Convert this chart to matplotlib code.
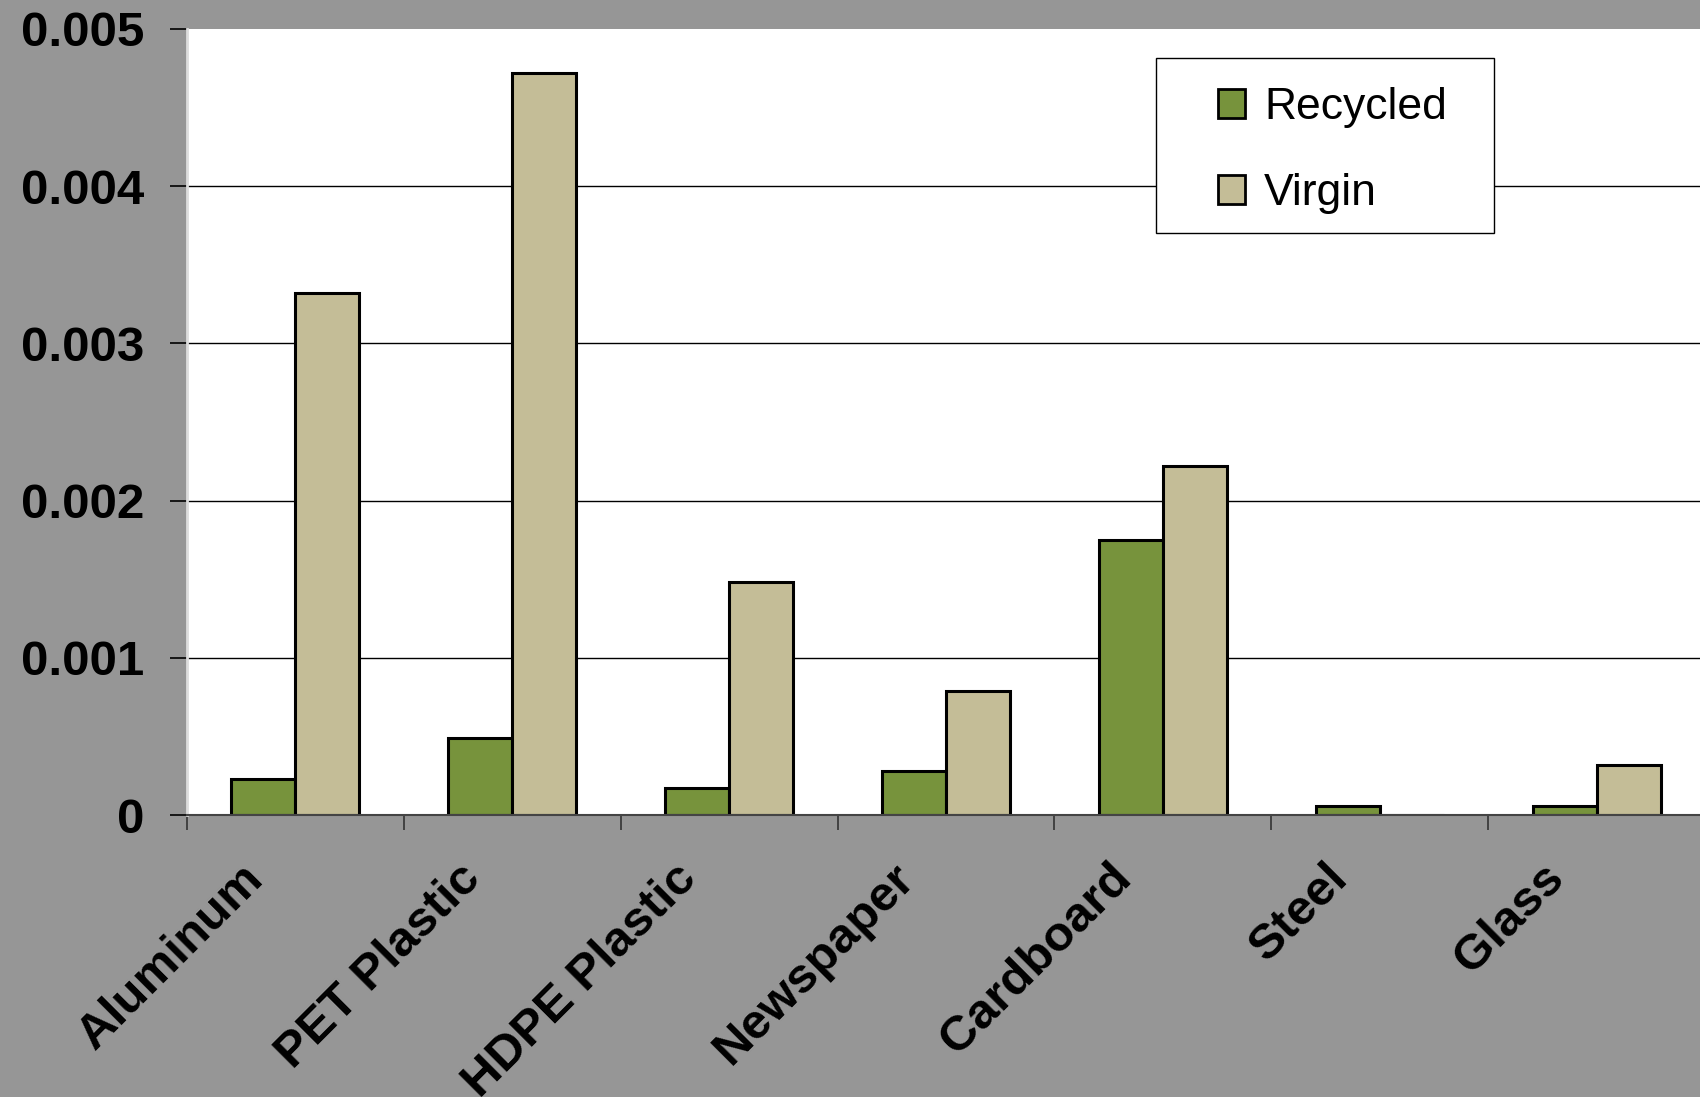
import numpy as np
import matplotlib.pyplot as plt
from matplotlib.patches import Patch, Rectangle
from matplotlib.transforms import ScaledTranslation

# Material categories and values
materials = ['Aluminum', 'PET Plastic', 'HDPE Plastic', 'Newspaper', 'Cardboard', 'Steel', 'Glass']
recycled = [0.00023, 0.00049, 0.00017, 0.00028, 0.00175, 0.000055, 0.000055]
virgin = [0.00332, 0.00472, 0.00148, 0.00079, 0.00222, 0.0, 0.00032]
y_ticks = [0, 0.001, 0.002, 0.003, 0.004, 0.005]
y_labels = ['0', '0.001', '0.002', '0.003', '0.004', '0.005']

green = '#77933C'
tan = '#C4BD97'
bg = '#969696'

plt.rcParams['font.family'] = ['Liberation Sans', 'DejaVu Sans']

fig = plt.figure(figsize=(17, 10.97), dpi=100, facecolor=bg)
ax = fig.add_axes([0.110, 0.257, 0.893, 0.7166])
ax.set_facecolor('white')

x = np.arange(len(materials))
w = 0.295
ax.bar(x - w / 2, recycled, w, color=green, edgecolor='black', linewidth=2.2, zorder=3)
ax.bar(x + w / 2, virgin, w, color=tan, edgecolor='black', linewidth=2.2, zorder=3)

ax.set_xlim(-0.5, len(materials) - 0.5)
ax.set_ylim(0, 0.005)

# y axis + gridlines (no line on the top edge)
ax.set_yticks(y_ticks)
ax.set_yticklabels(y_labels, fontsize=35.5, fontweight='bold')
ax.yaxis.grid(True, color='black', linewidth=1.0, zorder=1)
ax.yaxis.get_gridlines()[-1].set_visible(False)
ax.tick_params(axis='y', length=12, width=1.2, color='black', pad=19)

# category boundary ticks, labels at centers
ax.set_xticks(np.arange(-0.5, len(materials), 1.0))
ax.set_xticklabels([])
ax.set_xticks(x, minor=True)
ax.set_xticklabels(materials, minor=True, fontsize=35.5, fontweight='bold',
                   rotation=45, ha='right', va='top', rotation_mode='anchor')
ax.tick_params(axis='x', which='major', length=11, width=1.2, color='#333333')
ax.tick_params(axis='x', which='minor', length=0, pad=29)
shift = ScaledTranslation(-0.55, 0, fig.dpi_scale_trans)
for lbl in ax.get_xticklabels(minor=True):
    lbl.set_transform(lbl.get_transform() + shift)

for s in ['top', 'right']:
    ax.spines[s].set_visible(False)
ax.spines['left'].set_color('#dddddd')
ax.spines['left'].set_linewidth(2)
ax.spines['bottom'].set_color('#444444')
ax.spines['bottom'].set_linewidth(1.5)
ax.spines['bottom'].set_zorder(4)

# legend box drawn separately so the padding can match
ax.add_patch(Rectangle((0.638, 0.740), 0.2227, 0.2226, transform=ax.transAxes,
                       facecolor='white', edgecolor='black', linewidth=1.0,
                       zorder=5, clip_on=False))
handles = [Patch(facecolor=green, edgecolor='black', linewidth=2),
           Patch(facecolor=tan, edgecolor='black', linewidth=2)]
leg = ax.legend(handles, ['Recycled', 'Virgin'], loc='upper left',
                bbox_to_anchor=(0.679, 0.926), fontsize=32, frameon=False,
                handlelength=0.62, handleheight=0.62, handletextpad=0.42,
                borderpad=0, labelspacing=1.02, borderaxespad=0)
leg.set_zorder(6)

fig.savefig('out.png', dpi=100, facecolor=bg)
